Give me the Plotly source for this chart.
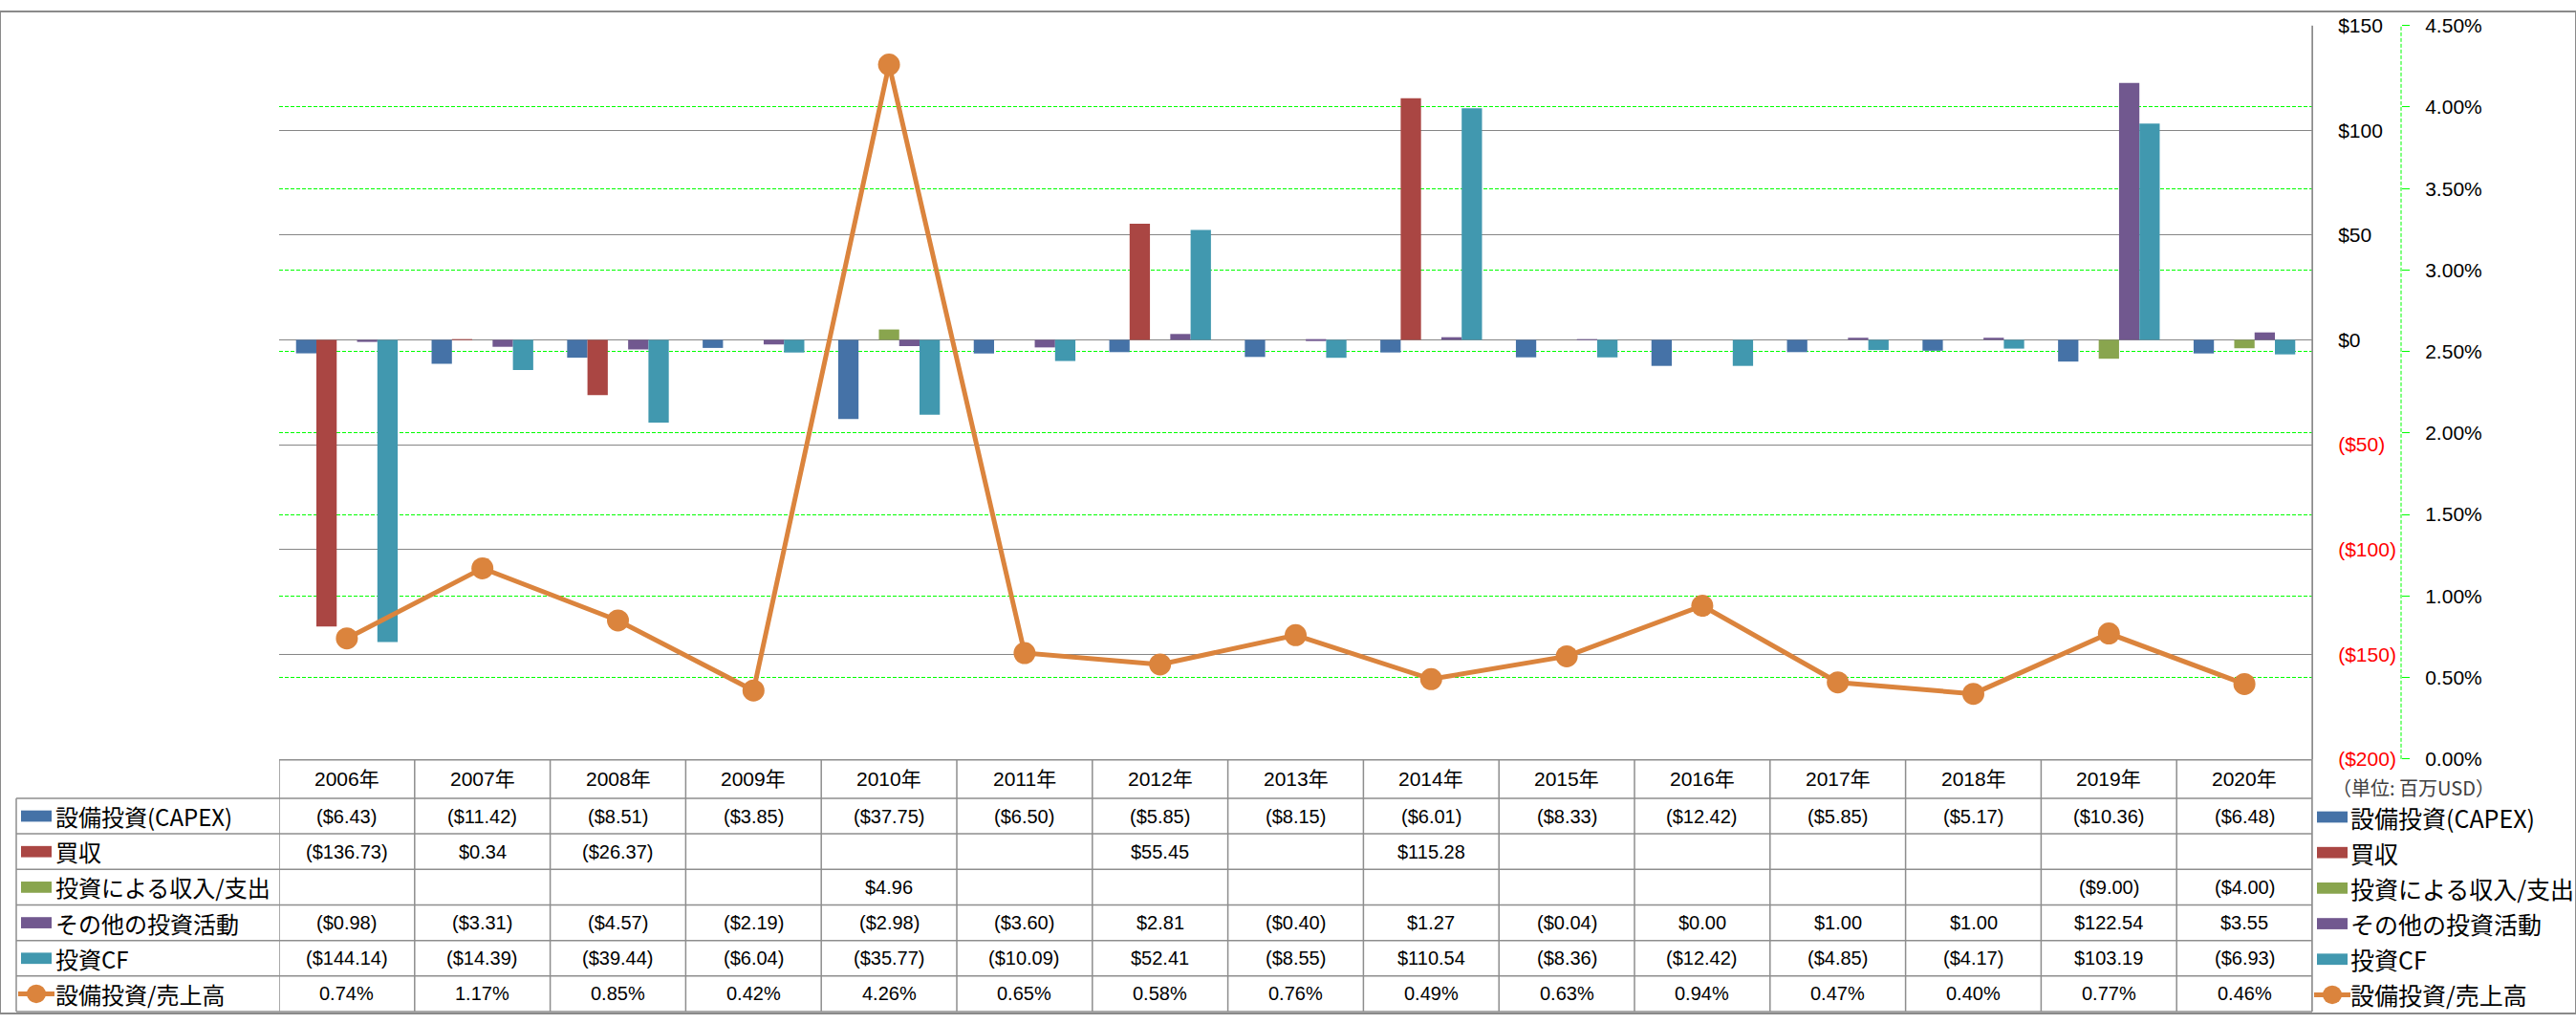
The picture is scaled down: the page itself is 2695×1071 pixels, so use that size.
import plotly.graph_objects as go

W, H = 2695, 1071

# ---------------- data ----------------
years = ["2006年", "2007年", "2008年", "2009年", "2010年", "2011年", "2012年", "2013年",
         "2014年", "2015年", "2016年", "2017年", "2018年", "2019年", "2020年"]
capex = [-6.43, -11.42, -8.51, -3.85, -37.75, -6.50, -5.85, -8.15, -6.01, -8.33, -12.42, -5.85, -5.17, -10.36, -6.48]
acquisition = [-136.73, 0.34, -26.37, None, None, None, 55.45, None, 115.28, None, None, None, None, None, None]
inv_income = [None, None, None, None, 4.96, None, None, None, None, None, None, None, None, -9.00, -4.00]
other_inv = [-0.98, -3.31, -4.57, -2.19, -2.98, -3.60, 2.81, -0.40, 1.27, -0.04, 0.00, 1.00, 1.00, 122.54, 3.55]
inv_cf = [-144.14, -14.39, -39.44, -6.04, -35.77, -10.09, 52.41, -8.55, 110.54, -8.36, -12.42, -4.85, -4.17, 103.19, -6.93]
capex_ratio = [0.74, 1.17, 0.85, 0.42, 4.26, 0.65, 0.58, 0.76, 0.49, 0.63, 0.94, 0.47, 0.40, 0.77, 0.46]  # percent

bar_names = ["設備投資(CAPEX)", "買収", "投資による収入/支出", "その他の投資活動", "投資CF"]
line_name = "設備投資/売上高"
y_ticks = [-200, -150, -100, -50, 0, 50, 100, 150]
unit_note = "（単位: 百万USD）"

# ---------------- styles ----------------
bar_colors = ["#4572A7", "#AA4643", "#89A54E", "#71588F", "#4198AF"]
line_color = "#DB843D"
grid_gray = "#868686"
table_gray = "#8E8E8E"
green = "#00FF00"
num_font = "Liberation Sans, Arial, Noto Sans CJK JP"
jp_font = "Noto Sans CJK JP, Liberation Sans"


def px(x):
    return x / W


def py(y):
    return 1 - y / H


def money(v):
    if v is None:
        return ""
    return f"(${-v:.2f})" if v < 0 else f"${v:.2f}"


def axis_money(v):
    if v < 0:
        return f"<span style='color:#FF0000'>(${-v})</span>"
    return f"${v}"


series = [capex, acquisition, inv_income, other_inv, inv_cf]

fig = go.Figure()
for name, vals, col in zip(bar_names, series, bar_colors):
    fig.add_trace(go.Bar(x=years, y=vals, name=name, marker=dict(color=col, line=dict(width=0)),
                         showlegend=False))

fig.add_trace(go.Scatter(x=years, y=[v / 100 for v in capex_ratio], name=line_name, yaxis="y2",
                         mode="lines+markers", line=dict(color=line_color, width=5),
                         marker=dict(color=line_color, size=23), showlegend=False))

plot_l, plot_r, plot_t, plot_b = 292, 2419, 15, 799

fig.update_layout(
    width=W, height=H, autosize=False,
    margin=dict(l=0, r=0, t=0, b=0, pad=0),
    paper_bgcolor="white", plot_bgcolor="white",
    font=dict(family=num_font, size=21, color="black"),
    barmode="group", bargap=0.25, bargroupgap=0,
    showlegend=False,
    xaxis=dict(domain=[px(plot_l), px(plot_r)], type="category", range=[-0.5, 14.5],
               showgrid=False, showline=False, zeroline=False, showticklabels=False, ticks=""),
    yaxis=dict(domain=[py(plot_b), py(plot_t)], range=[-200, 150], side="right",
               tickvals=y_ticks, ticktext=[axis_money(v) for v in y_ticks],
               showgrid=True, gridcolor=grid_gray, gridwidth=1, zeroline=False,
               showline=True, linecolor=grid_gray, linewidth=1,
               ticks="", ticklabelstandoff=22,
               tickfont=dict(family=num_font, size=21, color="black")),
    yaxis2=dict(overlaying="y", anchor="free", position=px(2512), side="right",
                range=[0, 0.045], dtick=0.005, tick0=0, tickformat=".2%",
                showgrid=True, gridcolor=green, gridwidth=1, griddash="4px,2px",
                zeroline=False, showline=False,
                ticks="outside", ticklen=8, tickcolor=green, tickwidth=1,
                ticklabelstandoff=12,
                tickfont=dict(family=num_font, size=21, color="black")),
)

shapes = []
# dashed secondary axis line
shapes.append(dict(type="line", xref="paper", yref="paper", x0=px(2512), x1=px(2512),
                   y0=py(plot_b), y1=py(plot_t), line=dict(color=green, width=1, dash="4px,2px")))
# outer chart border
shapes.append(dict(type="rect", xref="paper", yref="paper", x0=0, x1=1, y0=0, y1=1,
                   line=dict(color="#8A8A8A", width=2)))

# ---------------- data table ----------------
table_top, header_bot, row_h = 800, 841, 38
row_edges = [header_bot + i * row_h for i in range(7)]
label_left = 17

shapes.append(dict(type="line", xref="paper", yref="paper", x0=px(plot_l), x1=px(plot_r),
                   y0=py(table_top), y1=py(table_top), line=dict(color=table_gray, width=1.5)))
for ye in row_edges:
    shapes.append(dict(type="line", xref="paper", yref="paper", x0=px(label_left), x1=px(plot_r),
                       y0=py(ye), y1=py(ye), line=dict(color=table_gray, width=1.5)))
shapes.append(dict(type="line", xref="paper", yref="paper", x0=px(label_left), x1=px(label_left),
                   y0=py(header_bot), y1=py(row_edges[-1]), line=dict(color=table_gray, width=1.5)))
for i in range(len(years) + 1):
    shapes.append(dict(type="line", xref="x", yref="paper", x0=i - 0.5, x1=i - 0.5,
                       y0=py(table_top), y1=py(row_edges[-1]), line=dict(color=table_gray, width=1.5)))
shapes.append(dict(type="line", xref="paper", yref="paper", x0=px(plot_r), x1=px(plot_r),
                   y0=py(plot_t), y1=py(row_edges[-1]), line=dict(color=table_gray, width=1.5)))

annotations = []
header_c = (table_top + header_bot) / 2
for yr in years:
    annotations.append(dict(x=yr, xref="x", y=py(header_c), yref="paper", text=yr, showarrow=False,
                            xanchor="center", yanchor="middle",
                            font=dict(family=num_font, size=21, color="black")))

row_texts = [[money(v) for v in s] for s in series] + [[f"{v:.2f}%" for v in capex_ratio]]
row_centers = [(row_edges[i] + row_edges[i + 1]) / 2 for i in range(6)]
for texts, yc in zip(row_texts, row_centers):
    for yr, t in zip(years, texts):
        if t:
            annotations.append(dict(x=yr, xref="x", y=py(yc), yref="paper", text=t, showarrow=False,
                                    xanchor="center", yanchor="middle",
                                    font=dict(family=num_font, size=20, color="black")))

all_names = bar_names + [line_name]


def add_key(x0, text_x, yc, idx, size):
    if idx < len(bar_colors):
        shapes.append(dict(type="rect", xref="paper", yref="paper", x0=px(x0), x1=px(x0 + 32),
                           y0=py(yc + 6), y1=py(yc - 6), line=dict(width=0),
                           fillcolor=bar_colors[idx]))
    else:
        shapes.append(dict(type="line", xref="paper", yref="paper", x0=px(x0 - 3), x1=px(x0 + 35),
                           y0=py(yc), y1=py(yc), line=dict(color=line_color, width=5)))
        shapes.append(dict(type="circle", xref="paper", yref="paper", x0=px(x0 + 6), x1=px(x0 + 26),
                           y0=py(yc + 10), y1=py(yc - 10), line=dict(width=0), fillcolor=line_color))
    annotations.append(dict(x=px(text_x), xref="paper", y=py(yc), yref="paper", text=all_names[idx],
                            showarrow=False, xanchor="left", yanchor="middle",
                            font=dict(family=jp_font, size=size, color="black")))


for i, yc in enumerate(row_centers):
    add_key(22, 56, yc, i, 24)          # table label column
    add_key(2424, 2457, yc + 1, i, 25)  # right legend

annotations.append(dict(x=px(2438), xref="paper", y=py(829), yref="paper", text=unit_note,
                        showarrow=False, xanchor="left", yanchor="middle",
                        font=dict(family=jp_font, size=20, color="#404040")))

fig.update_layout(shapes=shapes, annotations=annotations)

fit_page = (
    "document.documentElement.style.margin='0';"
    "document.body.style.margin='0';"
    "document.body.style.overflow='hidden';"
)
fig.write_html("out.html", post_script=fit_page)
